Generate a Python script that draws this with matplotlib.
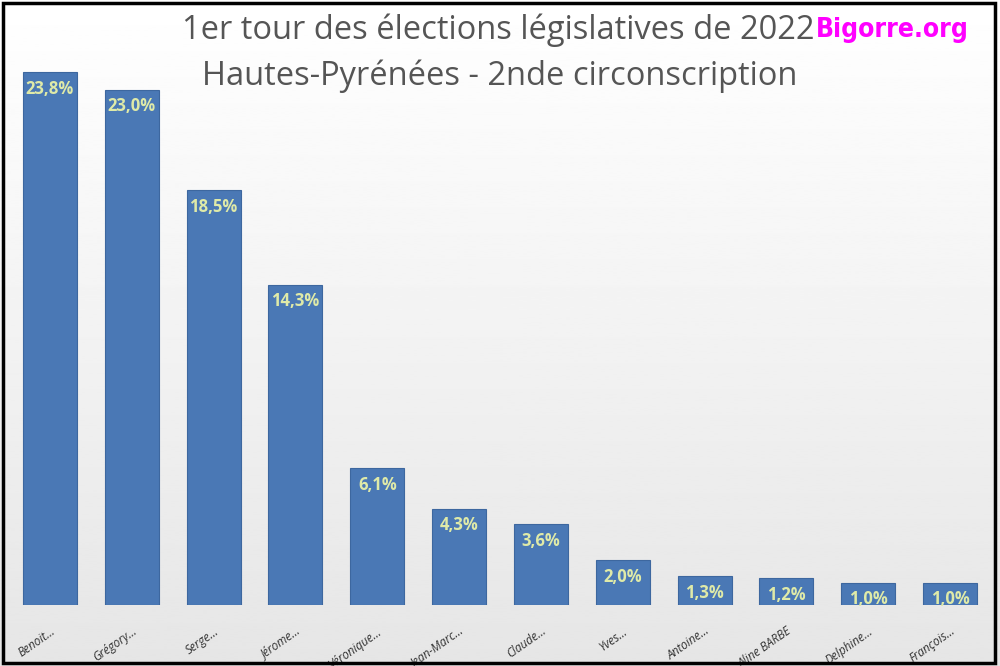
import matplotlib
matplotlib.use("Agg")
from matplotlib import pyplot as plt
from matplotlib.patches import Rectangle
import numpy as np

candidates = ["Benoit...", "Grégory...", "Serge...", "Jérome...", "Véronique...",
              "Jean-Marc...", "Claude...", "Yves...", "Antoine...", "Aline BARBE",
              "Delphine...", "François..."]
scores = [23.8, 23.0, 18.5, 14.3, 6.1, 4.3, 3.6, 2.0, 1.3, 1.2, 1.0, 1.0]
title1 = "1er tour des élections législatives de 2022"
title2 = "Hautes-Pyrénées - 2nde circonscription"

fig = plt.figure(figsize=(10, 6.66), dpi=100)
fig.patch.set_facecolor("#f7f7f7")
# gradient background
grad = np.linspace(1, 0.9, 256).reshape(-1, 1)
bg = fig.add_axes([0, 0, 1, 1], zorder=-1)
bg.imshow(grad, cmap="gray", vmin=0, vmax=1, aspect="auto", extent=[0, 1, 0, 1])
bg.axis("off")

ax = fig.add_axes([0, 61 / 666, 1, 1 - 61 / 666])
ax.patch.set_alpha(0)
x = np.arange(len(candidates))
bars = ax.bar(x, scores, width=0.66, color="#4a78b5", edgecolor="#3d679f", linewidth=0.8)
ax.set_xlim(-0.611, 11.61)
ax.set_ylim(0, 27.0)
for b, v in zip(bars, scores):
    ax.text(b.get_x() + b.get_width() / 2, v - 0.35, f"{v:.1f}%".replace(".", ","),
            ha="center", va="top", color="#dfeaa8", fontsize=12, fontweight="bold",
            family="Open Sans")
ax.set_yticks([])
ax.set_xticks(x)
ax.set_xticklabels(candidates, rotation=35, ha="right", rotation_mode="anchor",
                   fontsize=8.5, style="italic", color="#333333", family="Open Sans")
ax.tick_params(axis="x", length=0, pad=14)
for s in ax.spines.values():
    s.set_visible(False)

fig.text(0.498, 0.955, title1, ha="center", va="center", fontsize=23.5,
         color="#555555", family="Open Sans")
fig.text(0.5, 0.885, title2, ha="center", va="center", fontsize=23.5,
         color="#555555", family="Open Sans")
fig.text(0.892, 0.955, "Bigorre.org", ha="center", va="center", fontsize=19,
         color="#ff00ff", family="DejaVu Sans", fontstretch="condensed",
         fontweight="bold")

fig.patches.append(Rectangle((0.003, 0.005), 0.992, 0.99, transform=fig.transFigure,
                             fill=False, edgecolor="black", linewidth=2.5))
fig.savefig("out.png", dpi=100)
